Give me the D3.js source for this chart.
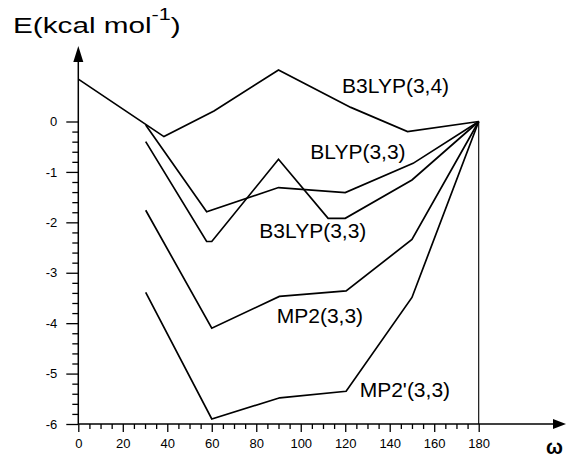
<!DOCTYPE html>
<html>
<head>
<meta charset="utf-8">
<script src="https://cdn.jsdelivr.net/npm/d3@7"></script>
<style>
  html, body { margin: 0; padding: 0; background: #fff; }
  svg { display: block; }
  text { font-family: "Liberation Sans", Arial, Helvetica, sans-serif; fill: #000; }
</style>
</head>
<body>
<svg id="chart" width="566" height="458"></svg>
<script>
// ---- data ----
const xTicks = [0, 20, 40, 60, 80, 100, 120, 140, 160, 180];
const yTicks = [-6, -5, -4, -3, -2, -1, 0];

const seriesNames = ["B3LYP(3,4)", "BLYP(3,3)", "B3LYP(3,3)", "MP2(3,3)", "MP2'(3,3)"];

const b3lyp34Omega = [0, 38.5, 61, 90, 122.5, 148, 180];
const b3lyp34E     = [0.84, -0.30, 0.21, 1.02, 0.28, -0.20, 0];

const blyp33Omega = [30.3, 57.7, 90, 120, 150.5, 180];
const blyp33E     = [-0.07, -1.79, -1.31, -1.41, -0.83, 0];

const b3lyp33Omega = [30.3, 57.7, 60, 90, 112.3, 120, 150, 180];
const b3lyp33E     = [-0.40, -2.38, -2.38, -0.75, -1.92, -1.92, -1.16, 0];

const mp233Omega = [30.3, 60, 90.4, 120.4, 150, 180];
const mp233E     = [-1.76, -4.10, -3.47, -3.36, -2.34, 0];

const mp2p33Omega = [30.3, 60, 90.6, 120.4, 150, 180];
const mp2p33E     = [-3.39, -5.90, -5.48, -5.35, -3.49, 0];

// label anchor points (data coordinates)
const labelOmega = [118.6, 104.3, 81.4, 89.2, 126.5];
const labelE     = [0.57, -0.75, -2.31, -4.0, -5.47];

// ---- layout ----
const svg = d3.select("#chart");
const x = d3.scaleLinear().domain([0, 180]).range([78.3, 478.7]);
const y = d3.scaleLinear().domain([-6, 0]).range([424, 121.5]);

const series = [
  [b3lyp34Omega, b3lyp34E],
  [blyp33Omega, blyp33E],
  [b3lyp33Omega, b3lyp33E],
  [mp233Omega, mp233E],
  [mp2p33Omega, mp2p33E]
];

const plainFmt = d => String(d);

// minor ticks
const xMinor = d3.range(0, 181, 5).filter(v => v % 20 !== 0);
const yMinor = d3.range(-30, 1, 1).map(v => v / 5).filter(v => Math.abs(v - Math.round(v)) > 1e-9);

// x axis (minor)
svg.append("g")
  .attr("transform", `translate(0,${y(-6)})`)
  .call(d3.axisBottom(x).tickValues(xMinor).tickSize(5).tickFormat(""))
  .call(g => g.select(".domain").remove())
  .call(g => g.selectAll("line").attr("stroke-width", 1.3));

// x axis (major)
svg.append("g")
  .attr("transform", `translate(0,${y(-6)})`)
  .call(d3.axisBottom(x).tickValues(xTicks).tickSize(8).tickPadding(7).tickFormat(plainFmt))
  .call(g => g.select(".domain").remove())
  .call(g => g.selectAll("line").attr("stroke-width", 1.3))
  .call(g => g.selectAll("text").attr("font-size", 13).attr("font-family", "Liberation Sans, Arial, sans-serif"));

// y axis (minor)
svg.append("g")
  .attr("transform", `translate(${x(0)},0)`)
  .call(d3.axisLeft(y).tickValues(yMinor).tickSize(6).tickFormat(""))
  .call(g => g.select(".domain").remove())
  .call(g => g.selectAll("line").attr("stroke-width", 1.3));

// y axis (major)
svg.append("g")
  .attr("transform", `translate(${x(0)},0)`)
  .call(d3.axisLeft(y).tickValues(yTicks).tickSize(12).tickPadding(9).tickFormat(plainFmt))
  .call(g => g.select(".domain").remove())
  .call(g => g.selectAll("line").attr("stroke-width", 1.3))
  .call(g => g.selectAll("text").attr("font-size", 13).attr("font-family", "Liberation Sans, Arial, sans-serif"));

// axis lines with arrows
const x0 = x(0), yBase = y(-6);
svg.append("line").attr("x1", x0).attr("y1", yBase).attr("x2", 553).attr("y2", yBase)
  .attr("stroke", "#000").attr("stroke-width", 1.5);
svg.append("path").attr("d", `M553,${yBase - 5}L566,${yBase}L553,${yBase + 5}Z`).attr("fill", "#000");
svg.append("line").attr("x1", x0).attr("y1", yBase).attr("x2", x0).attr("y2", 61)
  .attr("stroke", "#000").attr("stroke-width", 1.5);
svg.append("path").attr("d", `M${x0 - 5},62L${x0},46L${x0 + 5},62Z`).attr("fill", "#000");

// vertical reference line at omega = 180
svg.append("line").attr("x1", x(180)).attr("y1", y(0)).attr("x2", x(180)).attr("y2", y(-6))
  .attr("stroke", "#000").attr("stroke-width", 1.1);

// series lines
const line = d3.line().x(d => x(d[0])).y(d => y(d[1]));
series.forEach(([om, e]) => {
  svg.append("path")
    .datum(om.map((o, i) => [o, e[i]]))
    .attr("d", line)
    .attr("fill", "none")
    .attr("stroke", "#000")
    .attr("stroke-width", 1.7)
    .attr("stroke-linejoin", "miter");
});

// series labels
seriesNames.forEach((n, i) => {
  svg.append("text")
    .attr("x", x(labelOmega[i]))
    .attr("y", y(labelE[i]))
    .attr("font-size", 21)
    .text(n);
});

// y-axis title (stretched horizontally as in reference)
const title = svg.append("text")
  .attr("transform", "translate(13,33.3) scale(1.35,1)")
  .attr("font-size", 22);
title.append("tspan").text("E(kcal mol");
title.append("tspan").attr("font-size", 16).attr("dy", -13).text("-1");
title.append("tspan").attr("dy", 13).text(")");

// x-axis title (omega) at bottom-right corner
svg.append("text")
  .attr("x", 546)
  .attr("y", 454)
  .attr("font-size", 20)
  .attr("font-weight", "bold")
  .attr("font-family", "Liberation Serif, Times New Roman, serif")
  .text("ω");
</script>
</body>
</html>
